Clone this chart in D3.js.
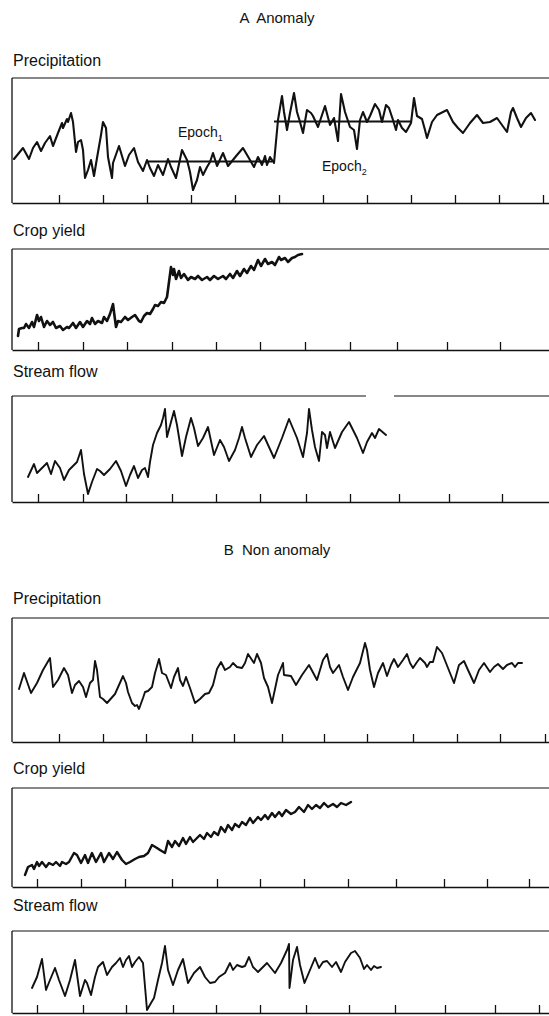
<!DOCTYPE html>
<html><head><meta charset="utf-8">
<script src="https://cdn.jsdelivr.net/npm/d3@7"></script>
<style>
body{margin:0;background:#fff}
svg{display:block}
text{font-family:"Liberation Sans",Arial,Helvetica,sans-serif;fill:#111}
</style>
</head><body>
<svg id="chart" width="549" height="1016"></svg>
<script>
// ---------- data (time in arbitrary units from panel's left edge, value in arbitrary units) ----------
const sectionTitles = ["A  Anomaly", "B  Non anomaly"];
const panelLabels = ["Precipitation", "Crop yield", "Stream flow", "Precipitation", "Crop yield", "Stream flow"];

const precipA = [[2,44],[11,55],[17,44],[21,55],[25,61],[29,52],[33,60],[38,67],[41,57],[46,70],[50,80],[51,75],[55,84],[56,81],[59,90],[61,81],[64,51],[66,61],[69,63],[71,53],[73,25],[76,33],[79,43],[82,27],[85,45],[89,68],[91,81],[94,75],[96,46],[100,25],[101,40],[107,57],[113,37],[117,48],[122,55],[126,41],[131,32],[135,43],[138,35],[142,27],[146,38],[151,28],[156,44],[159,36],[164,25],[170,53],[175,43],[178,31],[181,13],[185,23],[188,36],[191,28],[195,36],[198,41],[201,50],[205,37],[211,50],[216,37],[225,48],[231,55],[238,43],[242,36],[246,46],[250,38],[253,47],[255,38],[258,46],[262,40],[266,83],[270,107],[272,91],[275,73],[278,90],[282,110],[285,91],[288,81],[291,70],[295,93],[299,90],[301,87],[306,76],[313,97],[318,78],[322,85],[326,62],[329,109],[333,91],[338,76],[342,73],[345,54],[348,83],[351,91],[355,81],[358,87],[363,99],[367,93],[370,81],[374,98],[377,95],[381,83],[384,73],[386,83],[390,75],[394,71],[399,80],[402,105],[405,87],[410,84],[413,73],[415,65],[420,81],[425,88],[429,90],[435,93],[441,81],[446,75],[451,70],[458,80],[465,88],[471,80],[478,81],[485,85],[490,78],[495,71],[499,91],[501,95],[505,85],[509,76],[514,85],[519,90],[523,83]];

const cropA = [[6,14],[7,21],[10,22],[12,22],[14,26],[17,22],[20,28],[22,23],[25,35],[27,29],[29,33],[32,23],[35,29],[38,25],[41,28],[44,22],[48,24],[51,20],[55,23],[57,22],[61,27],[64,22],[68,28],[71,23],[75,29],[78,26],[80,32],[83,26],[86,29],[90,27],[92,33],[95,29],[98,36],[101,46],[102,38],[104,23],[106,29],[109,28],[113,33],[116,30],[120,33],[123,35],[127,29],[129,28],[132,34],[135,37],[138,36],[141,41],[143,45],[146,44],[149,48],[152,47],[155,53],[157,68],[159,83],[161,75],[162,81],[164,71],[167,79],[169,72],[172,76],[176,70],[179,73],[183,71],[186,74],[190,70],[195,73],[198,70],[202,74],[206,71],[211,74],[214,71],[218,76],[221,72],[225,79],[228,74],[232,81],[235,77],[239,84],[242,80],[246,90],[249,84],[253,91],[256,86],[260,88],[263,85],[267,93],[269,90],[273,92],[276,88],[280,92],[283,93],[286,95],[290,96]];

const streamA = [[16,25],[22,38],[25,29],[30,34],[35,39],[39,28],[43,41],[48,34],[52,22],[57,32],[65,40],[69,52],[72,28],[76,8],[80,20],[85,33],[88,31],[92,27],[98,33],[104,41],[109,31],[114,16],[118,27],[122,36],[126,24],[130,32],[133,34],[136,25],[138,40],[141,57],[145,69],[149,77],[151,84],[153,93],[155,65],[159,80],[162,91],[165,77],[170,46],[174,65],[179,84],[182,74],[186,56],[191,64],[196,75],[202,47],[208,62],[212,55],[217,41],[223,52],[227,64],[230,75],[233,64],[239,45],[245,57],[252,66],[262,44],[270,64],[277,83],[285,64],[291,45],[295,69],[297,93],[300,72],[303,55],[307,41],[310,70],[313,67],[315,54],[318,70],[323,54],[330,70],[337,80],[345,64],[351,49],[355,60],[360,69],[363,64],[367,73],[374,67]];

const precipB = [[7,53],[12,69],[19,49],[25,59],[31,72],[38,84],[41,55],[46,62],[52,74],[56,67],[60,49],[63,57],[67,61],[71,55],[74,45],[78,59],[81,62],[83,81],[85,72],[88,45],[91,43],[95,39],[103,48],[111,66],[114,59],[116,50],[120,39],[123,36],[125,37],[127,33],[131,44],[133,50],[136,51],[140,55],[143,69],[147,83],[150,69],[154,67],[159,54],[162,65],[166,74],[168,62],[171,56],[174,65],[178,54],[183,39],[188,43],[193,48],[197,49],[201,57],[205,73],[209,80],[213,72],[218,75],[221,79],[225,75],[230,74],[233,79],[236,88],[242,79],[245,88],[249,79],[252,64],[256,55],[260,39],[266,67],[271,79],[272,67],[279,66],[284,57],[290,67],[297,77],[305,62],[311,82],[315,88],[318,75],[321,69],[327,77],[331,65],[336,52],[341,65],[348,79],[353,99],[355,92],[358,72],[362,55],[366,69],[371,79],[375,66],[379,77],[382,83],[386,75],[391,82],[395,88],[398,79],[401,74],[405,80],[408,84],[413,79],[415,75],[418,80],[421,80],[425,95],[430,89],[436,74],[442,59],[447,77],[452,81],[456,72],[462,59],[467,72],[472,79],[478,70],[482,75],[486,78],[491,73],[495,77],[500,79],[503,75],[506,79],[510,79]];

const cropB = [[13,12],[16,20],[20,22],[22,18],[25,25],[27,21],[30,25],[34,20],[37,24],[41,22],[44,25],[48,21],[50,25],[54,23],[57,25],[62,34],[65,32],[69,24],[73,32],[76,24],[80,34],[84,25],[89,34],[92,25],[97,34],[101,28],[105,35],[110,27],[114,23],[118,25],[123,28],[127,30],[132,31],[136,34],[140,42],[145,39],[148,37],[153,34],[156,46],[160,40],[163,46],[167,41],[171,49],[174,43],[178,50],[181,45],[185,49],[188,52],[192,48],[195,54],[199,50],[202,55],[206,52],[209,60],[213,55],[216,62],[220,57],[223,63],[227,60],[230,65],[234,62],[238,69],[241,64],[246,70],[249,67],[253,72],[256,68],[260,74],[263,70],[267,75],[270,71],[274,77],[279,73],[283,75],[287,80],[292,75],[296,82],[300,78],[304,82],[308,79],[312,84],[316,80],[321,83],[325,80],[329,84],[334,82],[339,85]];

const streamB = [[20,25],[25,36],[30,54],[34,23],[38,33],[43,45],[47,33],[53,17],[58,33],[63,53],[68,17],[73,33],[75,30],[79,18],[83,36],[86,46],[91,51],[95,38],[100,46],[104,50],[108,55],[111,46],[114,53],[117,57],[120,46],[123,51],[127,56],[131,50],[135,3],[139,10],[142,15],[146,33],[150,50],[153,67],[156,43],[161,28],[166,43],[171,54],[176,30],[182,40],[188,46],[193,36],[198,30],[203,31],[207,36],[213,40],[218,50],[221,43],[225,48],[230,46],[233,47],[237,56],[241,46],[246,41],[255,50],[263,40],[269,50],[275,63],[277,69],[277.5,25],[281,53],[285,66],[288,48],[292.5,30],[298,43],[303,55],[307,45],[311,51],[315,52],[320,46],[324,51],[329,41],[333,51],[339,60],[343,62],[348,55],[352,44],[355,48],[359,43],[362,47],[365,45],[369,46]];

// value extent of each panel (arbitrary units)
const valueMax = [125, 101, 106, 124, 99, 82];

// tick positions along the time axis of each panel
const ticksP1 = [47,91,135,179,223,267,311,355,399,443,487,531];
const ticksP2 = [26,71,115,160,204,248,293,338,385,435,488];
const ticksP3 = [26,71,114,160,204,248,294,338,387,437,490];
const ticksP4 = [47,91,134,180,222,270,312,355,401,445,488,533];
const ticksP5 = [25,69,113,160,205,248,292,336,384,432,475,517];
const ticksP6 = [25,71,114,161,204,248,294,337,383,433,483,527];

// epoch means (anomaly precipitation)
const epochStart = [136, 262];
const epochEnd = [260, 400];
const epochLevel = [41.5, 81.5];
const epochSub = ["1", "2"];
const epochLabelAt = [[166, 66], [310, 32]];

const timeDomain = [0, 537];

// ---------- layout ----------
const svg = d3.select("#chart");
const panels = [
  {series: precipA, ticks: ticksP1, top: 78,  bottom: 203, labelY: 66,  width: 2.1},
  {series: cropA,   ticks: ticksP2, top: 249, bottom: 350, labelY: 236, width: 2.6},
  {series: streamA, ticks: ticksP3, top: 396, bottom: 502, labelY: 377, width: 1.9, gap: [354, 382]},
  {series: precipB, ticks: ticksP4, top: 618, bottom: 742, labelY: 604, width: 1.9},
  {series: cropB,   ticks: ticksP5, top: 788, bottom: 887, labelY: 774, width: 2.4},
  {series: streamB, ticks: ticksP6, top: 931, bottom: 1013, labelY: 911, width: 1.9}
];

const x = d3.scaleLinear().domain(timeDomain).range([12, 549]);

svg.selectAll("text.section").data(sectionTitles).join("text")
  .attr("class", "section")
  .attr("x", 277).attr("y", (d, i) => i === 0 ? 23 : 555)
  .attr("text-anchor", "middle")
  .style("font-size", "15px")
  .style("white-space", "pre")
  .text(d => d);

panels.forEach((p, i) => {
  const y = d3.scaleLinear().domain([0, valueMax[i]]).range([p.bottom, p.top]);
  const g = svg.append("g");

  g.append("text").attr("x", 13).attr("y", p.labelY)
    .style("font-size", "16px").text(panelLabels[i]);

  // frame: left side and top
  g.append("line").attr("x1", x(0)).attr("x2", x(0)).attr("y1", p.top).attr("y2", p.bottom)
    .attr("stroke", "#111").attr("stroke-width", 1.3);
  const topSegs = p.gap ? [[0, p.gap[0]], [p.gap[1], timeDomain[1]]] : [timeDomain];
  topSegs.forEach(s => g.append("line")
    .attr("x1", x(s[0])).attr("x2", x(s[1])).attr("y1", p.top).attr("y2", p.top)
    .attr("stroke", "#111").attr("stroke-width", 1.2));

  // bottom axis with inward ticks
  const ax = g.append("g").attr("transform", `translate(0,${p.bottom})`)
    .call(d3.axisBottom(x).tickValues(p.ticks).tickSizeInner(-8).tickSizeOuter(0).tickFormat(""));
  ax.select(".domain").attr("stroke", "#111").attr("stroke-width", 1.3);
  ax.selectAll(".tick line").attr("stroke", "#111").attr("stroke-width", 1.3);

  const line = d3.line().x(d => x(d[0])).y(d => y(d[1]));
  g.append("path").datum(p.series).attr("d", line)
    .attr("fill", "none").attr("stroke", "#111")
    .attr("stroke-width", p.width).attr("stroke-linejoin", "round").attr("stroke-linecap", "round");

  if (i === 0) {
    epochStart.forEach((s, k) => {
      g.append("line").attr("x1", x(s)).attr("x2", x(epochEnd[k]))
        .attr("y1", y(epochLevel[k])).attr("y2", y(epochLevel[k]))
        .attr("stroke", "#111").attr("stroke-width", 1.8);
      const t = g.append("text").attr("x", x(epochLabelAt[k][0])).attr("y", y(epochLabelAt[k][1]))
        .style("font-size", "14px");
      t.append("tspan").text("Epoch");
      t.append("tspan").attr("dy", 4).style("font-size", "9px").text(epochSub[k]);
    });
  }
});
</script>
</body></html>
